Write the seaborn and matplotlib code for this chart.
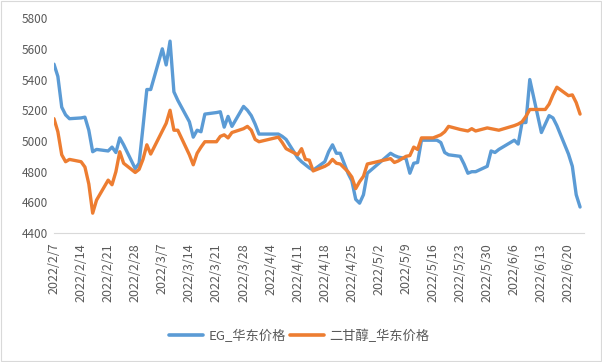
import pandas as pd
import seaborn as sns
import matplotlib.pyplot as plt
from matplotlib.patches import Rectangle
from matplotlib.lines import Line2D

# 数据: 日期 + 两条价格序列
dates = [
    "2022/2/7", "2022/2/8", "2022/2/9", "2022/2/10", "2022/2/11",
    "2022/2/14", "2022/2/15", "2022/2/16", "2022/2/17", "2022/2/18",
    "2022/2/21", "2022/2/22", "2022/2/23", "2022/2/24", "2022/2/25",
    "2022/2/28", "2022/3/1", "2022/3/2", "2022/3/3", "2022/3/4",
    "2022/3/7", "2022/3/8", "2022/3/9", "2022/3/10", "2022/3/11",
    "2022/3/14", "2022/3/15", "2022/3/16", "2022/3/17", "2022/3/18",
    "2022/3/21", "2022/3/22", "2022/3/23", "2022/3/24", "2022/3/25",
    "2022/3/28", "2022/3/29", "2022/3/30", "2022/3/31", "2022/4/1",
    "2022/4/6", "2022/4/7", "2022/4/8",
    "2022/4/11", "2022/4/12", "2022/4/13", "2022/4/14", "2022/4/15",
    "2022/4/18", "2022/4/19", "2022/4/20", "2022/4/21", "2022/4/22",
    "2022/4/24", "2022/4/25", "2022/4/26", "2022/4/27", "2022/4/28", "2022/4/29",
    "2022/5/5", "2022/5/6", "2022/5/7",
    "2022/5/9", "2022/5/10", "2022/5/11", "2022/5/12", "2022/5/13",
    "2022/5/16", "2022/5/17", "2022/5/18", "2022/5/19", "2022/5/20",
    "2022/5/23", "2022/5/24", "2022/5/25", "2022/5/26", "2022/5/27",
    "2022/5/30", "2022/5/31", "2022/6/1", "2022/6/2",
    "2022/6/6", "2022/6/7", "2022/6/8", "2022/6/9", "2022/6/10",
    "2022/6/13", "2022/6/14", "2022/6/15", "2022/6/16", "2022/6/17",
    "2022/6/20", "2022/6/21", "2022/6/22", "2022/6/23",
]

eg_price = [
    5500, 5420, 5220, 5170, 5145,
    5150, 5155, 5070, 4930, 4945,
    4935, 4960, 4925, 5020, 4975,
    4820, 4855, 5090, 5335, 5335,
    5600, 5495, 5650, 5320, 5265,
    5125, 5025, 5070, 5060, 5175,
    5185, 5190, 5090, 5160, 5095,
    5225, 5200, 5165, 5110, 5045,
    5045, 5030, 5010,
    4890, 4865, 4845, 4825, 4810,
    4865, 4930, 4975, 4920, 4920,
    4790, 4740, 4620, 4595, 4650, 4790,
    4920, 4905, 4895,
    4885, 4790, 4855, 4860, 5005,
    5005, 5005, 4990, 4925, 4910,
    4900, 4850, 4790, 4800, 4800,
    4835, 4935, 4925, 4945,
    5005, 4980, 5120, 5120, 5400,
    5055, 5110, 5165, 5150, 5100,
    4915, 4835, 4650, 4570,
]

deg_price = [
    5145, 5060, 4910, 4865, 4880,
    4865, 4830, 4720, 4530, 4615,
    4745, 4715, 4800, 4930, 4855,
    4795, 4815, 4880, 4975, 4915,
    5065, 5115, 5200, 5070, 5070,
    4910, 4845, 4920, 4960, 4995,
    4995, 5030, 5040, 5020, 5055,
    5080, 5095, 5070, 5010, 4995,
    5025, 4990, 4950,
    4910, 4950, 4880, 4875, 4805,
    4835, 4850, 4880, 4855, 4850,
    4800, 4765, 4690, 4735, 4770, 4850,
    4885, 4860, 4870,
    4900, 4905, 4960, 4945, 5020,
    5020, 5030, 5040, 5060, 5095,
    5075, 5070, 5065, 5080, 5065,
    5085, 5080, 5075, 5070,
    5100, 5110, 5125, 5160, 5205,
    5205, 5205, 5240, 5300, 5350,
    5295, 5300, 5250, 5175,
]

series_names = ["EG_华东价格", "二甘醇_华东价格"]
colors = ["#5B9BD5", "#ED7D31"]
y_ticks = [4400, 4600, 4800, 5000, 5200, 5400, 5600, 5800]

# 长表
d = pd.to_datetime(dates, format="%Y/%m/%d")
df = pd.concat([
    pd.DataFrame({"date": d, "price": eg_price, "series": series_names[0]}),
    pd.DataFrame({"date": d, "price": deg_price, "series": series_names[1]}),
])

sns.set_style("white")
plt.rcParams["font.family"] = ["Noto Sans CJK SC", "DejaVu Sans"]

fig = plt.figure(figsize=(6.02, 3.62), dpi=100)
ax = fig.add_axes([0.0897, 0.356, 0.8803, 0.594])

sns.lineplot(data=df, x="date", y="price", hue="series", palette=colors,
             linewidth=2.4, legend=False, ax=ax)

ax.set_xlim(pd.Timestamp("2022-02-07"), pd.Timestamp("2022-06-24"))
ax.set_ylim(4400, 5800)
ax.set_yticks(y_ticks)
ax.set_xlabel("")
ax.set_ylabel("")

tick_dates = pd.date_range("2022-02-07", "2022-06-20", freq="7D")
ax.set_xticks(tick_dates)
ax.set_xticklabels([f"{t.year}/{t.month}/{t.day}" for t in tick_dates],
                   rotation=90, fontsize=9, color="#595959")
ax.tick_params(axis="x", length=5, color="#D9D9D9", width=0.8, pad=2)
ax.tick_params(axis="y", length=0, labelsize=8.5, labelcolor="#595959", pad=4)

for s in ["left", "top", "right"]:
    ax.spines[s].set_visible(False)
ax.spines["bottom"].set_color("#D9D9D9")
ax.spines["bottom"].set_linewidth(0.8)

handles = [Line2D([], [], color=c, linewidth=2.6) for c in colors]
fig.legend(handles, series_names, loc="center", bbox_to_anchor=(0.497, 0.072),
           ncol=2, frameon=False, fontsize=9.5, handlelength=2.6,
           columnspacing=0.35, handletextpad=0.4, labelcolor="#595959")

# 外框
fig.patches.append(Rectangle((0.002, 0.003), 0.996, 0.994, transform=fig.transFigure,
                             fill=False, edgecolor="#D9D9D9", linewidth=0.8))

plt.savefig("out.png", dpi=100)
